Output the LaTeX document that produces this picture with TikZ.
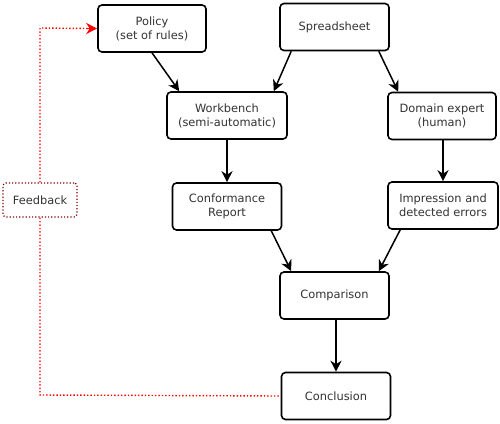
\documentclass[tikz,border=0pt]{standalone}
\usepackage{fontspec}
\setmainfont{DejaVu Sans}
\usetikzlibrary{arrows.meta,positioning}
\begin{document}
\begin{tikzpicture}[x=1pt,y=-1pt,
  box/.style={draw=black,line width=1.6pt,rounded corners=4pt,fill=white,
    minimum width=#1,minimum height=47pt,align=center,inner sep=0pt,
    font=\fontsize{11.4}{14}\selectfont,text=black!80},
  box/.default=109pt,
  tip/.style={-{Stealth[length=11pt,width=11pt,inset=3.5pt]}},
  arr/.style={line width=1.5pt,tip},
  fb/.style={red,line width=1.4pt,dotted},
  fbbox/.style={draw=red!50!black,line width=1.2pt,dotted,rounded corners=3pt,
    minimum width=74pt,minimum height=34pt,inner sep=0pt,
    font=\fontsize{11.4}{14}\selectfont,text=black!80}]
\useasboundingbox (0,0) rectangle (500,423);
\node[box=108pt] (policy) at (152,28.5) {Policy\\(set of rules)};
\node[box] (sheet) at (334.5,27) {Spreadsheet};
\node[box=120pt] (work) at (227,115.5) {Workbench\\(semi-automatic)};
\node[box=108pt] (domain) at (442,116) {Domain expert\\(human)};
\node[box] (conf) at (227,206.5) {Conformance\\Report};
\node[box=110pt] (impr) at (443,205.5) {Impression and\\detected errors};
\node[box] (comp) at (334.5,295.5) {Comparison};
\node[box] (concl) at (336,396) {Conclusion};
\node[fbbox] (feed) at (40,200) {Feedback};
\coordinate (ftop) at (40,28);
\coordinate (fbot) at (40,395);
\draw[arr] (policy.south) -- ([xshift=13pt]work.north west);
\draw[arr] ([xshift=12pt]sheet.south west) -- ([xshift=-14pt]work.north east);
\draw[arr] ([xshift=-11pt]sheet.south east) -- ([xshift=11pt]domain.north west);
\draw[arr] (work.south) -- (work.south |- conf.north);
\draw[arr] (impr.north |- domain.south) -- (impr.north);
\draw[arr] ([xshift=-11pt]conf.south east) -- ([xshift=12pt]comp.north west);
\draw[arr] ([xshift=13pt]impr.south west) -- ([xshift=-11pt]comp.north east);
\draw[arr] (concl.north |- comp.south) -- (concl.north);
\draw[fb] (feed.north) -- (ftop) -- ([xshift=-9pt]policy.west);
\draw[red,line width=1.4pt,tip] ([xshift=-10pt]policy.west) -- (policy.west);
\draw[fb] (feed.south) -- (fbot) -- (concl.west);
\end{tikzpicture}
\end{document}
